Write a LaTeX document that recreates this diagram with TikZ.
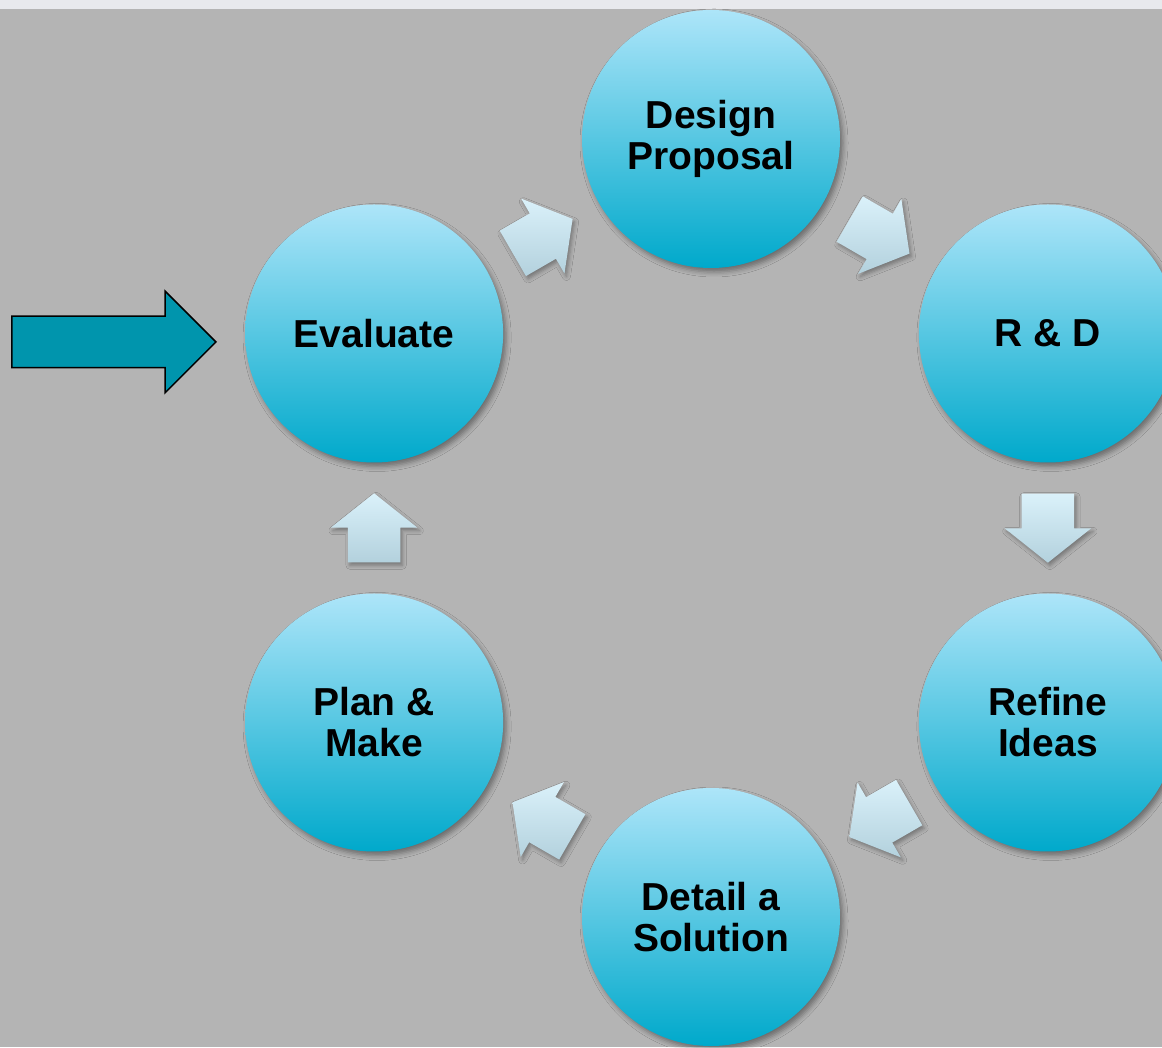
\documentclass[tikz,border=0pt]{standalone}
\usepackage{fontspec}
\setmainfont{Liberation Sans}
\usetikzlibrary{calc,positioning,shapes.arrows,shadows.blur}

\definecolor{bgGray}{HTML}{B4B4B4}
\definecolor{barGray}{HTML}{E8E9ED}
\definecolor{ballTop}{HTML}{ADE5F9}
\definecolor{ballBottom}{HTML}{00A9CB}
\definecolor{turnTop}{HTML}{DAF1FA}
\definecolor{turnBottom}{HTML}{B3D1DD}
\definecolor{entryTeal}{HTML}{0095AD}

\tikzset{
  stage/.style={circle, minimum size=258pt, inner sep=0pt, align=center,
    top color=ballTop, bottom color=ballBottom,
    font=\fontsize{39}{41}\selectfont\bfseries,
    blur shadow={shadow xshift=3pt, shadow yshift=-4pt,
      shadow blur radius=5pt, shadow opacity=40}},
  turn/.style={single arrow, minimum height=69pt, text height=52pt,
    text depth=0pt, text width=0pt, inner sep=0pt,
    single arrow head extend=17pt, single arrow tip angle=103,
    top color=turnTop, bottom color=turnBottom, anchor=tail,
    blur shadow={shadow xshift=2pt, shadow yshift=-3pt,
      shadow blur radius=4pt, shadow opacity=35}}
}

\begin{document}
\begin{tikzpicture}[x=1pt, y=1pt]
  \fill[bgGray] (0,0) rectangle (1162,1047);
  \fill[barGray] (0,1038) rectangle (1162,1047);
  \useasboundingbox (0,0) rectangle (1162,1047);

  \coordinate (hub) at (711,519);
  \node[stage] (design) at ($(hub)+(90:389)$) {Design\\Proposal};
  \node[stage] (rd) at ($(hub)+(30:389)$) {R \& D};
  \node[stage] (refine) at ($(hub)+(-30:389)$) {Refine\\Ideas};
  \node[stage] (detail) at ($(hub)+(-90:389)$) {Detail a\\Solution};
  \node[stage] (plan) at ($(hub)+(-150:389)$) {Plan \&\\Make};
  \node[stage] (eval) at ($(hub)+(150:389)$) {Evaluate};

  % block arrows half way round the ring
  \foreach \a/\b in {eval/design,design/rd,rd/refine,refine/detail,detail/plan,plan/eval}
    \path let \p1=($(\b)-(\a)$), \n1={atan2(\y1,\x1)} in
      node[turn, rotate=\n1] (flow-\a) at ($(\a)!0.5!(\b)!34.5pt!(\a)$) {};

  \node[single arrow, draw=black, line width=1.5pt, fill=entryTeal,
    minimum height=204pt, text height=50pt, text depth=0pt, text width=0pt,
    inner sep=0pt, single arrow head extend=25pt, anchor=tip]
    (entry) at (217,705) {};
\end{tikzpicture}
\end{document}
